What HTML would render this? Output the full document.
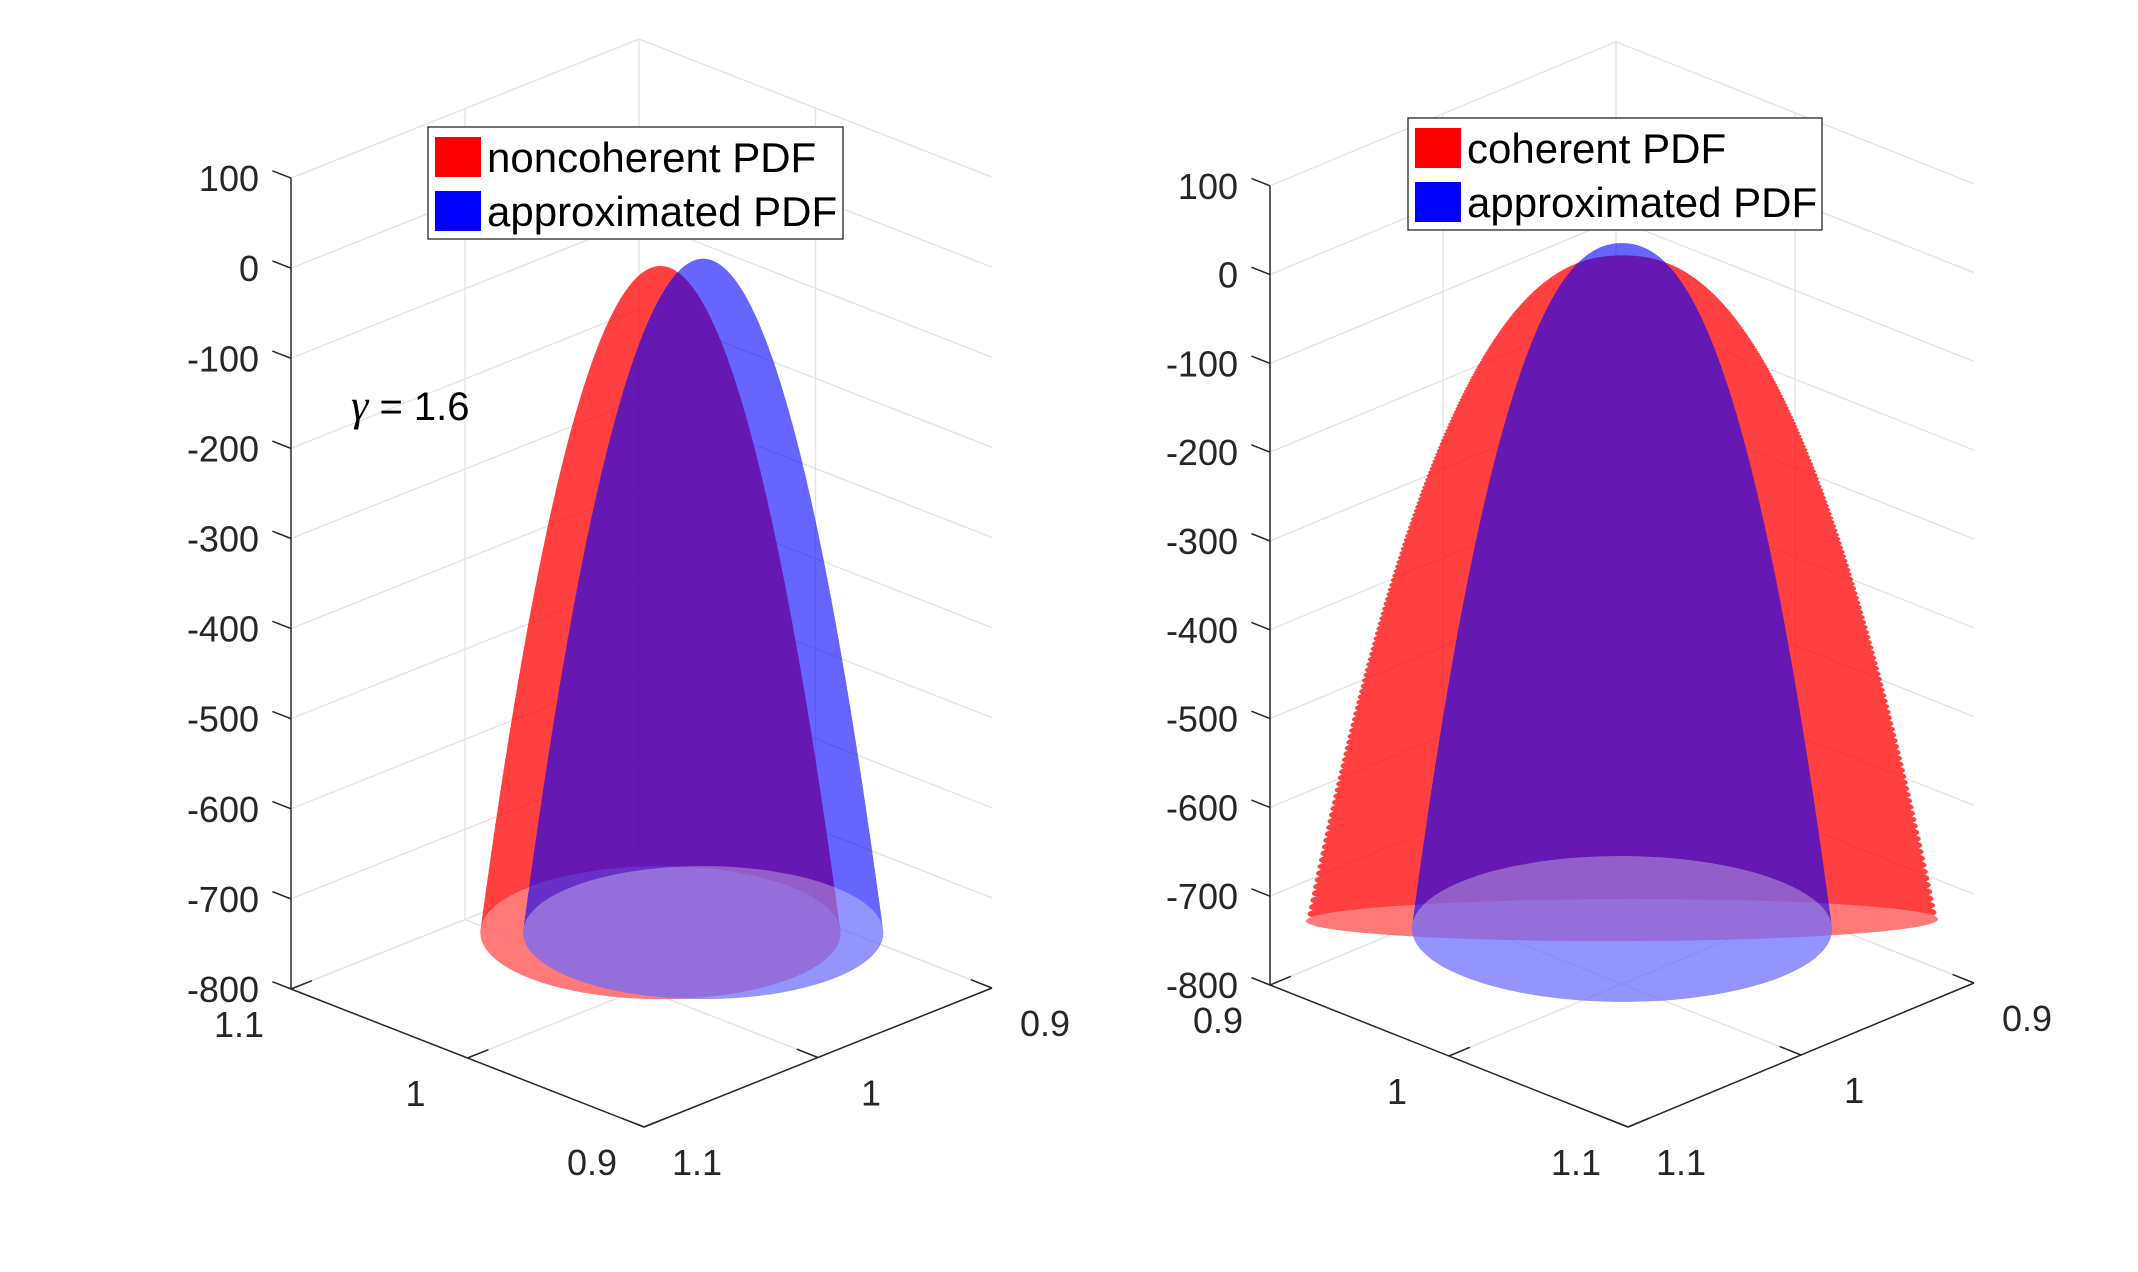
<!DOCTYPE html>
<html><head><meta charset="utf-8"><style>
html,body{margin:0;padding:0;background:#fff;}
svg{display:block;font-family:"Liberation Sans",sans-serif;}
</style></head><body>
<svg id="fig" width="2138" height="1272" viewBox="0 0 2138 1272" xmlns="http://www.w3.org/2000/svg">
<rect width="2138" height="1272" fill="#fff"/>
<g id="p1"></g>
<g id="p2"></g>
</svg>
<script>
// ---- data ----
const zTicks = [100, 0, -100, -200, -300, -400, -500, -600, -700, -800];
const leftXTickLabels = ['1.1', '1', '0.9'];
const leftYTickLabels = ['1.1', '1', '0.9'];
const rightXTickLabels = ['0.9', '1', '1.1'];
const rightYTickLabels = ['1.1', '1', '0.9'];
const leftNames = ['noncoherent PDF', 'approximated PDF'];
const leftCx = [0.9946, 0.9824];
const leftCy = [0.9946, 0.9824];
const leftPeak = [0, 8];
const leftBase = [-738, -738];
const leftRadH = [0.0514, 0.0514];
const leftRadD = [0.048, 0.048];
const leftShape = [2, 2];
const rightNames = ['coherent PDF', 'approximated PDF'];
const rightCx = [1.0, 1.0];
const rightCy = [1.0, 1.0];
const rightPeak = [20, 30];
const rightBase = [-728, -738];
const rightRadH = [0.0898, 0.0597];
const rightRadD = [0.0147, 0.051];
const rightShape = [2.3, 2.3];

const NS = 'http://www.w3.org/2000/svg';
function mk(tag, attrs, parent, name, inter) {
  const e = document.createElementNS(NS, tag);
  for (const k in attrs) e.setAttribute(k, attrs[k]);
  
  
  parent.appendChild(e);
  return e;
}

function panel(g, cfg) {
  const F = cfg.F, L = cfg.L, R = cfg.R, sz = cfg.sz;
  const aOf = cfg.aOf, bOf = cfg.bOf;
  function proj(a, b, z) {
    return [F[0] + a * (L[0] - F[0]) + b * (R[0] - F[0]),
            F[1] + a * (L[1] - F[1]) + b * (R[1] - F[1]) - (z + 800) * sz];
  }
  const grid = '#e3e3e3', axc = '#262626';
  function line(p, q, col, w, name) {
    mk('line', {x1: p[0], y1: p[1], x2: q[0], y2: q[1], stroke: col, 'stroke-width': w}, g, name, false);
  }
  zTicks.forEach(z => {
    line(proj(1, 0, z), proj(1, 1, z), grid, 1.3, 'z-gridline-left-wall');
    line(proj(1, 1, z), proj(0, 1, z), grid, 1.3, 'z-gridline-right-wall');
  });
  [0.5, 1].forEach(t => {
    line(proj(1, t, -800), proj(1, t, 100), grid, 1.3, 'vertical-gridline');
    if (t < 1) line(proj(t, 1, -800), proj(t, 1, 100), grid, 1.3, 'vertical-gridline');
  });
  [0.5, 1].forEach(t => {
    line(proj(t, 0, -800), proj(t, 1, -800), grid, 1.3, 'floor-gridline');
    line(proj(0, t, -800), proj(1, t, -800), grid, 1.3, 'floor-gridline');
  });
  const cols = ['#ff0000', '#0000ff'];
  const ops = [0.75, 0.6];
  cfg.cx.forEach((cx, i) => {
    const ca = aOf(cx), cb = bOf(cfg.cy[i]);
    const rA = cfg.rh[i] / 0.2, rB = cfg.rd[i] / 0.2;
    const sg = mk('g', {opacity: ops[i], fill: cols[i]}, g, i ? 'approx-pdf-surface' : 'pdf-surface', false);
    let d = '';
    let last = '';
    const N = 220;
    for (let ri = 1; ri <= N; ri++) {
      const rho = ri / N;
      const z = cfg.peak[i] - (cfg.peak[i] - cfg.base[i]) * Math.pow(rho, cfg.shape[i]);
      let rd = '';
      for (let ti = 0; ti < 90; ti++) {
        const th = ti / 90 * 2 * Math.PI;
        const s = rA * rho * Math.cos(th), t = rB * rho * Math.sin(th);
        const p = proj(ca - s + t, cb + s + t, z);
        rd += (ti ? 'L' : 'M') + p[0].toFixed(1) + ',' + p[1].toFixed(1);
      }
      d += rd + 'Z';
      if (ri === N) last = rd + 'Z';
    }
    mk('path', {d: d, 'fill-rule': 'nonzero'}, sg, 'surface-rings', false);
    mk('path', {d: last, fill: 'rgba(255,255,255,0.3)'}, g, 'surface-base', false);
  });
  line(proj(1, 0, -800), proj(1, 0, 100), axc, 1.5, 'z-axis');
  line(proj(1, 0, -800), proj(0, 0, -800), axc, 1.5, 'x-axis');
  line(proj(0, 0, -800), proj(0, 1, -800), axc, 1.5, 'y-axis');
  const ux = (F[0] - L[0]), uy = (F[1] - L[1]), ul = Math.hypot(ux, uy);
  zTicks.forEach(z => {
    const p = proj(1, 0, z);
    line(p, [p[0] - ux / ul * 20, p[1] - uy / ul * 20], axc, 1.5, 'z-tick');
    const t = mk('text', {x: p[0] - 32, y: p[1] + 13, 'text-anchor': 'end', 'font-size': 36, fill: axc}, g, 'z-tick-label', false);
    t.textContent = z;
  });
  [1, 0.5, 0].forEach((a, j) => {
    const p = proj(a, 0, -800);
    line(p, [p[0] + (R[0] - F[0]) * 0.06, p[1] + (R[1] - F[1]) * 0.06], axc, 1.5, 'x-tick');
    const t = mk('text', {x: p[0] - 52, y: p[1] + 48, 'text-anchor': 'middle', 'font-size': 36, fill: axc}, g, 'x-tick-label', false);
    t.textContent = cfg.xLabels[j];
  });
  [0, 0.5, 1].forEach((b, j) => {
    const p = proj(0, b, -800);
    line(p, [p[0] + (L[0] - F[0]) * 0.06, p[1] + (L[1] - F[1]) * 0.06], axc, 1.5, 'y-tick');
    const t = mk('text', {x: p[0] + 53, y: p[1] + 48, 'text-anchor': 'middle', 'font-size': 36, fill: axc}, g, 'y-tick-label', false);
    t.textContent = cfg.yLabels[j];
  });
  const lg = cfg.legend;
  mk('rect', {x: lg[0], y: lg[1], width: lg[2], height: lg[3], fill: '#fff', stroke: '#262626', 'stroke-width': 1.3}, g, 'legend-box', true);
  cfg.names.forEach((n, i) => {
    const cy = lg[1] + 30 + i * 54;
    mk('rect', {x: lg[0] + 7, y: cy - 20, width: 46, height: 40, fill: i ? '#0000ff' : '#ff0000'}, g, 'legend-swatch', false);
    const t = mk('text', {x: lg[0] + 59, y: cy + 15, 'font-size': 42, fill: '#000'}, g, 'legend-entry', true);
    t.textContent = n;
  });
}

panel(document.getElementById('p1'), {
  F: [644, 1127], L: [291, 989], R: [992, 988], sz: 0.901,
  aOf: x => (x - 0.9) / 0.2, bOf: y => (1.1 - y) / 0.2,
  cx: leftCx, cy: leftCy, peak: leftPeak, base: leftBase, rh: leftRadH, rd: leftRadD, shape: leftShape,
  xLabels: leftXTickLabels, yLabels: leftYTickLabels,
  legend: [428, 127, 415, 112], names: leftNames
});
panel(document.getElementById('p2'), {
  F: [1628, 1127], L: [1270, 985], R: [1974, 983], sz: 0.888,
  aOf: x => (1.1 - x) / 0.2, bOf: y => (1.1 - y) / 0.2,
  cx: rightCx, cy: rightCy, peak: rightPeak, base: rightBase, rh: rightRadH, rd: rightRadD, shape: rightShape,
  xLabels: rightXTickLabels, yLabels: rightYTickLabels,
  legend: [1408, 118, 414, 112], names: rightNames
});
const g1 = document.getElementById('p1');
const gt = mk('text', {x: 351, y: 420, 'font-size': 40, fill: '#000'}, g1, 'gamma-annotation', false);
gt.innerHTML = '<tspan font-family="Liberation Serif, serif" font-style="italic" font-size="44">γ</tspan> = 1.6';
</script>
</body></html>
